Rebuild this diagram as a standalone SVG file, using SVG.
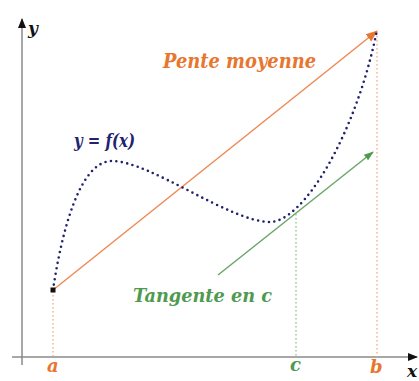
<svg xmlns="http://www.w3.org/2000/svg" width="419" height="381" viewBox="0 0 419 381">
<defs>
<marker id="ahk" markerWidth="10" markerHeight="10" refX="9" refY="5" orient="auto" markerUnits="userSpaceOnUse"><path d="M0,1 L10,5 L0,9 Z" fill="#111"/></marker>
<marker id="aho" markerWidth="12" markerHeight="12" refX="11" refY="6" orient="auto" markerUnits="userSpaceOnUse"><path d="M0,1.5 L12,6 L0,10.5 Z" fill="#e8762f"/></marker>
<marker id="ahg" markerWidth="10" markerHeight="10" refX="9" refY="5" orient="auto" markerUnits="userSpaceOnUse"><path d="M0,1.5 L10,5 L0,8.5 Z" fill="#4f9a4f"/></marker>
</defs>
<rect width="419" height="381" fill="#fff"/>
<g id="axes" stroke="#8a8a8a" stroke-width="1.5" fill="none">
<line x1="22" y1="365" x2="22" y2="19" marker-end="url(#ahk)"/>
<line x1="12" y1="357" x2="417" y2="357" marker-end="url(#ahk)"/>
</g>
<g id="guides" stroke-width="1.2" stroke-dasharray="1.5 2.5" fill="none">
<line stroke="#f2a27a" x1="53" y1="291" x2="53" y2="357"/>
<line stroke="#7fbf7f" x1="296" y1="214" x2="296" y2="357"/>
<line stroke="#f2a27a" x1="377" y1="32" x2="377" y2="357"/>
</g>
<g id="connectors" stroke-width="1.5">
<line id="secant" x1="53" y1="290" x2="377" y2="31" stroke="#ee8a55" marker-end="url(#aho)"/>
<line id="tangent" x1="218" y1="275" x2="373" y2="152" stroke="#6aa56a" marker-end="url(#ahg)"/>
</g>
<g id="curve">
<path d="M53,290 C62,230 80,161 112,161 C150,161 230,222 270,222 C303,222 356,135 377,30" fill="none" stroke="#22226e" stroke-width="2.6" stroke-linecap="round" stroke-dasharray="0 5.5"/>
<rect x="50.5" y="287.5" width="5" height="5" fill="#111"/>
</g>
<g id="labels" font-family="DejaVu Serif, serif" font-weight="bold" font-style="italic">
<text x="28" y="34" font-size="17" fill="#111">y</text>
<text x="407" y="377" font-size="17" fill="#111">x</text>
<text x="163" y="68" font-size="20" fill="#e8762f" textLength="153" lengthAdjust="spacingAndGlyphs">Pente moyenne</text>
<text x="74" y="147" font-size="18" fill="#22226e" textLength="61" lengthAdjust="spacingAndGlyphs">y = f(x)</text>
<text x="133" y="302" font-size="19" fill="#4f9a4f" textLength="139" lengthAdjust="spacingAndGlyphs">Tangente en c</text>
<text x="47" y="372" font-size="18" fill="#e8762f">a</text>
<text x="290" y="371" font-size="18" fill="#4f9a4f">c</text>
<text x="370" y="373" font-size="18" fill="#e8762f">b</text>
</g>
</svg>
